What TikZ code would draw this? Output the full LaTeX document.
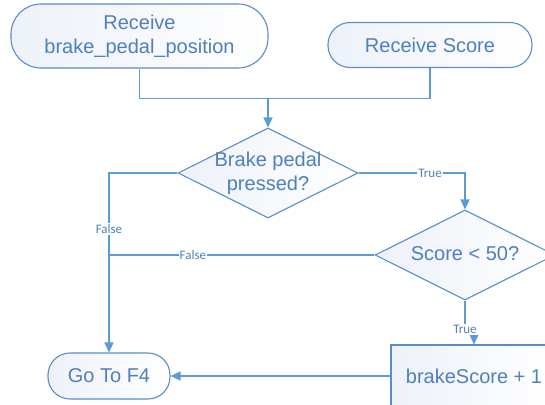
\documentclass[tikz,border=0pt]{standalone}
\usepackage{fontspec}
\setmainfont{Liberation Sans}
\newfontfamily\lblfont{Carlito}
\usetikzlibrary{shapes.geometric,arrows.meta}

\definecolor{lineblue}{HTML}{5B9BD5}
\definecolor{edgeblue}{HTML}{5A8DC8}
\definecolor{textblue}{HTML}{4E80BD}
\definecolor{nodefill}{HTML}{EDF1F9}

% text of a decision node is kept out of the diamond size
\newcommand{\dectext}[1]{\makebox[0pt]{\raisebox{-6pt}[0pt][0pt]{\begin{tabular}{@{}c@{}}#1\end{tabular}}}}

\tikzset{
  fc_node/.style = {align=center, inner sep=0pt, text=textblue, draw=edgeblue,
    line width=1.1pt, left color=nodefill, right color=white,
    font=\fontsize{20}{24}\selectfont},
  fc_term/.style = {fc_node, rectangle, rounded corners=22pt},% debut / fin
  fc_big/.style = {fc_node, rectangle, rounded corners=30pt},% debut sur deux lignes
  fc_dec/.style = {fc_node, diamond, aspect=2, minimum width=180pt,
    minimum height=90pt},% decision
  fc_proc/.style = {fc_node, rectangle},% traitement
  conn/.style = {draw=lineblue, line width=1.5pt},
  conn_arr/.style = {conn, -{Triangle[length=10pt,width=9pt]}},
  lbl/.style = {fill=white, text=textblue, inner sep=1pt,
    font=\lblfont\fontsize{13}{15}\selectfont}
}

\begin{document}
\begin{tikzpicture}[x=1pt, y=-1pt]
        \useasboundingbox (0,0) rectangle (545,404);
        \node [fc_big, minimum width=257pt, minimum height=64pt] (recv_brake)
          at (139.5,36) {Receive\\brake\_pedal\_position};
        \node [fc_term, minimum width=204pt, minimum height=45pt] (recv_score)
          at (430,45) {Receive Score};
        \node [fc_dec] (brake_dec) at (268,173) {\dectext{Brake pedal\\pressed?}};
        \node [fc_dec] (score_dec) at (465,255) {\dectext{Score < 50?}};
        \node [fc_term, minimum width=122pt, minimum height=46pt] (goto_f4)
          at (109,376) {Go To F4};
        \node [fc_proc, minimum width=166pt, minimum height=62pt] (calc_box)
          at (474,376) {brakeScore + 1};
        \coordinate (merge) at (268,98);
        \coordinate (join) at (109,255);

        \draw [conn] (recv_brake.south) -- ++(0,30) -| (recv_score.south);
        \draw [conn_arr] (merge) -- (brake_dec.north);
        \draw [conn_arr] (brake_dec.west) -| node [lbl, pos=0.656] {False} (goto_f4.north);
        \draw [conn_arr] (brake_dec.east) -| node [lbl, pos=0.336] {True} (score_dec.north);
        \draw [conn] (score_dec.west) -- node [lbl, pos=0.684] {False} (join);
        \draw [conn_arr] (score_dec.south) -- ++(0,29) -| node [lbl, pos=0] {True}
          (calc_box.north);
        \draw [conn_arr] (calc_box.west) -- (goto_f4.east);
      \end{tikzpicture}
\end{document}
